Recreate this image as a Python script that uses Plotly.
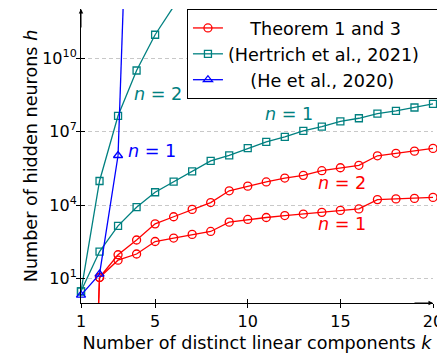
import plotly.graph_objects as go

# ---------------- data ----------------
k = list(range(1, 21))

theorem_n1 = [1e-20, 11, 56, 100, 324, 447, 631, 832, 1995, 2570, 3090, 3715,
              4266, 5012, 6026, 6918, 16600, 17780, 18620, 20420]
theorem_n2 = [1e-20, 11, 93, 372, 1700, 3311, 6607, 12590, 38020, 58880, 87100,
              125900, 162200, 251200, 331100, 416900, 1020000, 1290000, 1580000, 2040000]
hertrich_n1 = [3, 126, 1413, 8128, 33110, 89130, 234400, 631000, 1070000, 2090000,
               3800000, 6030000, 10700000, 15800000, 25700000, 34700000, 53700000,
               69200000, 95500000, 135000000]
hertrich_n2 = [3, 95500, 4.37e7, 3.09e9, 8.9e10, 1.26e12]
he_n1 = [2.1, 15, 1.05e6, 1e28]

x_tickvals = [1, 5, 10, 15, 20]
y_tickvals = [1e1, 1e4, 1e7, 1e10]
y_ticktext = ["10<sup>1</sup>", "10<sup>4</sup>", "10<sup>7</sup>", "10<sup>10</sup>"]

legend_names = ["Theorem 1 and 3", "(Hertrich et al., 2021)", "(He et al., 2020)"]

# ---------------- style ----------------
RED = "#ff0000"
TEAL = "#008080"
BLUE = "#0000ff"
FONT = "DejaVu Sans"
FS = 17.6
TFS = 16
YLOG = (0, 12)
XR = (1, 20)
NB = "\u00a0"

fig = go.Figure()


def add_series(xs, ys, color, symbol, size, name, showlegend, group):
    lo, hi = 10 ** YLOG[0], 10 ** YLOG[1]
    inr = [lo <= y <= hi for y in ys]
    # segments that leave the plotting range (drawn as plain clipped lines)
    sx, sy = [], []
    for i in range(len(xs) - 1):
        if not (inr[i] and inr[i + 1]):
            sx += [xs[i], xs[i + 1], None]
            sy += [ys[i], ys[i + 1], None]
    if sx:
        fig.add_trace(go.Scatter(x=sx, y=sy, mode="lines", showlegend=False,
                                 hoverinfo="skip", legendgroup=group,
                                 line=dict(color=color, width=1.3)))
    px = [x for x, f in zip(xs, inr) if f]
    py = [y for y, f in zip(ys, inr) if f]
    fig.add_trace(go.Scatter(
        x=px, y=py, mode="lines+markers", name=name, showlegend=showlegend,
        legendgroup=group, cliponaxis=False,
        line=dict(color=color, width=1.3),
        marker=dict(symbol=symbol, size=size, color=color,
                    line=dict(color=color, width=1.3))))


add_series(k, theorem_n1, RED, "circle-open", 8, NB * 4 + legend_names[0], True, "thm")
add_series(k, theorem_n2, RED, "circle-open", 8, NB * 4 + legend_names[0], False, "thm")
add_series(k[:len(hertrich_n1)], hertrich_n1, TEAL, "square-open", 7,
           legend_names[1] + NB * 3, True, "hert")
add_series(k[:len(hertrich_n2)], hertrich_n2, TEAL, "square-open", 7,
           legend_names[1] + NB * 3, False, "hert")
add_series(k[:len(he_n1)], he_n1, BLUE, "triangle-up-open", 8, NB * 4 + legend_names[2], True, "he")

# dummy trace for overlay axes (outside ticks)
fig.add_trace(go.Scatter(x=[None], y=[None], xaxis="x2", yaxis="y2",
                         showlegend=False, hoverinfo="skip"))

# ---------------- annotations ----------------
labels = [
    (5.17, 8.52, "<i>n</i> = 2", TEAL),
    (4.85, 6.22, "<i>n</i> = 1", BLUE),
    (12.22, 7.73, "<i>n</i> = 1", TEAL),
    (15.08, 4.88, "<i>n</i> = 2", RED),
    (15.08, 3.24, "<i>n</i> = 1", RED),
]
for lx, ly, txt, col in labels:
    fig.add_annotation(x=lx, y=ly, xref="x", yref="y", text=txt, showarrow=False,
                       font=dict(family=FONT, size=FS, color=col))

# axis arrows
fig.add_annotation(x=0, y=1, xref="paper", yref="paper", ax=0, ay=20,
                   showarrow=True, arrowhead=2, arrowsize=0.9, arrowwidth=1,
                   arrowcolor="black", text="")
fig.add_annotation(x=1, y=0, xref="paper", yref="paper", ax=-20, ay=0,
                   showarrow=True, arrowhead=2, arrowsize=0.9, arrowwidth=1,
                   arrowcolor="black", text="")

axis_common = dict(showline=True, linecolor="black", linewidth=1,
                   ticks="inside", ticklen=4, tickcolor="black", tickwidth=1,
                   zeroline=False, tickfont=dict(family=FONT, size=TFS, color="black"))

# the page body has an 8px margin, so the figure is sized to fill the rest
fig.update_layout(
    width=437, height=346,
    margin=dict(l=73, r=12, t=1, b=51),
    paper_bgcolor="white", plot_bgcolor="white",
    font=dict(family=FONT, size=FS, color="black"),
    xaxis=dict(range=list(XR), tickvals=x_tickvals, showgrid=False,
               ticklabelstandoff=4,
               title=dict(text="Number of distinct linear components <i>k</i>",
                          font=dict(family=FONT, size=FS), standoff=6),
               **axis_common),
    yaxis=dict(type="log", range=list(YLOG), tickvals=y_tickvals, ticktext=y_ticktext,
               showgrid=True, gridcolor="#c8c8c8", griddash="4px,3px", gridwidth=1,
               title=dict(text="Number of hidden neurons <i>h</i>",
                          font=dict(family=FONT, size=FS), standoff=0),
               **axis_common),
    xaxis2=dict(overlaying="x", range=list(XR), tickvals=x_tickvals, ticks="outside",
                ticklen=4, tickcolor="black", showticklabels=False, showgrid=False,
                zeroline=False, showline=False),
    yaxis2=dict(overlaying="y", type="log", range=list(YLOG), tickvals=y_tickvals,
                ticks="outside", ticklen=4, tickcolor="black", showticklabels=False,
                showgrid=False, zeroline=False, showline=False),
    legend=dict(x=0.301, y=1.0, xanchor="left", yanchor="top",
                bgcolor="white", bordercolor="black", borderwidth=1,
                font=dict(family=FONT, size=FS, color="black"),
                tracegroupgap=0),
    showlegend=True,
)

fig.write_html("out.html")
